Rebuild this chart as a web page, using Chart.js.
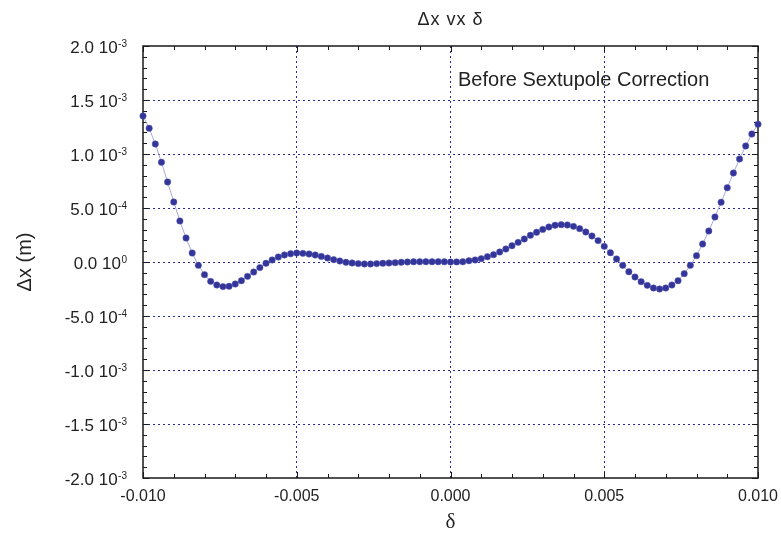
<!DOCTYPE html>
<html>
<head>
<meta charset="utf-8">
<script src="https://cdn.jsdelivr.net/npm/chart.js@4.4.1/dist/chart.umd.min.js"></script>
<style>
  html, body { margin: 0; padding: 0; background: #fff; }
</style>
</head>
<body>
<canvas id="dx_chart" width="781" height="537"></canvas>
<script>
// momentum deviation (delta) of each tracked particle
const deltas = [
  -0.0100, -0.0098, -0.0096, -0.0094, -0.0092, -0.0090, -0.0088, -0.0086, -0.0084, -0.0082,
  -0.0080, -0.0078, -0.0076, -0.0074, -0.0072, -0.0070, -0.0068, -0.0066, -0.0064, -0.0062,
  -0.0060, -0.0058, -0.0056, -0.0054, -0.0052, -0.0050, -0.0048, -0.0046, -0.0044, -0.0042,
  -0.0040, -0.0038, -0.0036, -0.0034, -0.0032, -0.0030, -0.0028, -0.0026, -0.0024, -0.0022,
  -0.0020, -0.0018, -0.0016, -0.0014, -0.0012, -0.0010, -0.0008, -0.0006, -0.0004, -0.0002,
   0.0000,  0.0002,  0.0004,  0.0006,  0.0008,  0.0010,  0.0012,  0.0014,  0.0016,  0.0018,
   0.0020,  0.0022,  0.0024,  0.0026,  0.0028,  0.0030,  0.0032,  0.0034,  0.0036,  0.0038,
   0.0040,  0.0042,  0.0044,  0.0046,  0.0048,  0.0050,  0.0052,  0.0054,  0.0056,  0.0058,
   0.0060,  0.0062,  0.0064,  0.0066,  0.0068,  0.0070,  0.0072,  0.0074,  0.0076,  0.0078,
   0.0080,  0.0082,  0.0084,  0.0086,  0.0088,  0.0090,  0.0092,  0.0094,  0.0096,  0.0098,
   0.0100
];

// horizontal offset dx (m) before the sextupole correction
const dxBefore = [
   1.352e-3,  1.238e-3,  1.093e-3,  0.923e-3,  0.741e-3,  0.556e-3,  0.380e-3,  0.222e-3,  0.083e-3, -0.031e-3,
  -0.117e-3, -0.179e-3, -0.213e-3, -0.228e-3, -0.225e-3, -0.204e-3, -0.173e-3, -0.133e-3, -0.093e-3, -0.052e-3,
  -0.012e-3,  0.019e-3,  0.046e-3,  0.065e-3,  0.077e-3,  0.083e-3,  0.080e-3,  0.074e-3,  0.065e-3,  0.052e-3,
   0.037e-3,  0.022e-3,  0.009e-3, -0.003e-3, -0.009e-3, -0.015e-3, -0.018e-3, -0.018e-3, -0.015e-3, -0.012e-3,
  -0.009e-3, -0.006e-3, -0.003e-3,  0.000e-3,  0.002e-3,  0.003e-3,  0.003e-3,  0.003e-3,  0.003e-3,  0.002e-3,
   0.000e-3,  0.001e-3,  0.003e-3,  0.012e-3,  0.019e-3,  0.031e-3,  0.049e-3,  0.068e-3,  0.093e-3,  0.120e-3,
   0.151e-3,  0.182e-3,  0.213e-3,  0.247e-3,  0.275e-3,  0.302e-3,  0.324e-3,  0.340e-3,  0.346e-3,  0.343e-3,
   0.330e-3,  0.309e-3,  0.278e-3,  0.241e-3,  0.198e-3,  0.145e-3,  0.086e-3,  0.028e-3, -0.031e-3, -0.090e-3,
  -0.139e-3, -0.182e-3, -0.216e-3, -0.241e-3, -0.250e-3, -0.241e-3, -0.213e-3, -0.173e-3, -0.108e-3, -0.031e-3,
   0.059e-3,  0.167e-3,  0.287e-3,  0.417e-3,  0.553e-3,  0.688e-3,  0.824e-3,  0.954e-3,  1.074e-3,  1.185e-3,
   1.275e-3
];

// y tick labels as mantissa + power of ten, top to bottom
const yTickValues = [2.0e-3, 1.5e-3, 1.0e-3, 5.0e-4, 0, -5.0e-4, -1.0e-3, -1.5e-3, -2.0e-3];
const yTickMantissa = ['2.0', '1.5', '1.0', '5.0', '0.0', '-5.0', '-1.0', '-1.5', '-2.0'];
const yTickExponent = ['-3', '-3', '-3', '-4', '0', '-4', '-3', '-3', '-3'];

const chartTitle = '\u0394x vx \u03b4';
const xTitle = '\u03b4';
const yTitle = '\u0394x (m)';
const noteText = 'Before Sextupole Correction';

const textColor = '#222222';
const gridColor = '#2b2c9c';

// frame, inward ticks and the y labels with superscript exponents
const framePlugin = {
  id: 'frame',
  beforeDatasetsDraw(chart) {
    const {ctx, chartArea: a, scales} = chart;
    ctx.save();
    ctx.strokeStyle = '#1a1a1a';
    ctx.lineWidth = 1;
    ctx.beginPath();
    // x ticks every 0.001 on bottom and top
    for (let i = -10; i <= 10; i++) {
      const px = Math.round(scales.x.getPixelForValue(i * 0.001)) + 0.5;
      const len = (i % 5 === 0) ? 6 : 4;
      ctx.moveTo(px, a.bottom); ctx.lineTo(px, a.bottom - len);
      ctx.moveTo(px, a.top); ctx.lineTo(px, a.top + len);
    }
    // y ticks every 1e-4 on left and right
    for (let i = -20; i <= 20; i++) {
      const py = Math.round(scales.y.getPixelForValue(i * 1e-4)) + 0.5;
      const len = (i % 5 === 0) ? 6 : 4;
      ctx.moveTo(a.left, py); ctx.lineTo(a.left + len, py);
      ctx.moveTo(a.right, py); ctx.lineTo(a.right - len, py);
    }
    ctx.stroke();
    ctx.lineWidth = 1.5;
    ctx.strokeRect(a.left, a.top, a.right - a.left, a.bottom - a.top);

    // y tick labels
    ctx.fillStyle = textColor;
    ctx.textBaseline = 'alphabetic';
    yTickValues.forEach((v, i) => {
      const py = scales.y.getPixelForValue(v);
      ctx.font = '10px Arial';
      const expW = ctx.measureText(yTickExponent[i]).width;
      const ex = a.left - 16 - expW;
      ctx.textAlign = 'left';
      ctx.fillText(yTickExponent[i], ex, py + 0.5);
      ctx.font = '17px Arial';
      ctx.textAlign = 'right';
      ctx.fillText(yTickMantissa[i] + ' 10', ex - 0.5, py + 6.5);
    });

    // titles and the note
    ctx.textAlign = 'center';
    ctx.textBaseline = 'middle';
    ctx.font = '18px Arial';
    ctx.letterSpacing = '1px';
    ctx.fillText(chartTitle, (a.left + a.right) / 2, 20);
    ctx.letterSpacing = '0px';
    ctx.font = '21px "Liberation Serif", serif';
    ctx.fillText(xTitle, (a.left + a.right) / 2, 522);
    ctx.save();
    ctx.translate(25, (a.top + a.bottom) / 2);
    ctx.rotate(-Math.PI / 2);
    ctx.font = '20px Arial';
    ctx.fillText(yTitle, 0, 0);
    ctx.restore();
    ctx.textAlign = 'left';
    ctx.textBaseline = 'alphabetic';
    ctx.font = '20px Arial';
    ctx.fillText(noteText, 458, 86);
    ctx.restore();
  }
};

const edgeGrid = (min, max) => (c) => {
  const v = c.tick ? c.tick.value : 0;
  return (Math.abs(v - min) < 1e-9 || Math.abs(v - max) < 1e-9) ? 'rgba(0,0,0,0)' : gridColor;
};

new Chart(document.getElementById('dx_chart'), {
  type: 'line',
  data: {
    datasets: [{
      data: deltas.map((d, i) => ({x: d, y: dxBefore[i]})),
      borderColor: '#a7a8d6',
      borderWidth: 1,
      pointRadius: 3.2,
      pointBackgroundColor: '#33359a',
      pointBorderColor: '#5557ad',
      pointBorderWidth: 0.5,
      tension: 0,
      clip: false
    }]
  },
  options: {
    responsive: false,
    animation: false,
    devicePixelRatio: 1,
    layout: { padding: { top: 46, right: 23, left: 0, bottom: 0 } },
    plugins: { legend: { display: false }, tooltip: { enabled: false } },
    scales: {
      x: {
        type: 'linear',
        min: -0.01,
        max: 0.01,
        afterFit: (s) => { s.height = 59; s.paddingLeft = 0; s.paddingRight = 0; },
        ticks: {
          stepSize: 0.005,
          color: textColor,
          font: { family: 'Arial', size: 16 },
          padding: 9,
          maxRotation: 0,
          callback: (v) => (Math.abs(v) < 1e-12 ? 0 : v).toFixed(3)
        },
        grid: { color: edgeGrid(-0.01, 0.01), lineWidth: 1, drawTicks: false },
        border: { display: false, dash: [2, 3] }
      },
      y: {
        min: -0.002,
        max: 0.002,
        afterFit: (s) => { s.width = 143; s.paddingTop = 0; s.paddingBottom = 0; },
        ticks: { stepSize: 0.0005, display: false },
        grid: { color: edgeGrid(-0.002, 0.002), lineWidth: 1, drawTicks: false },
        border: { display: false, dash: [2, 3] }
      }
    }
  },
  plugins: [framePlugin]
});
</script>
</body>
</html>
